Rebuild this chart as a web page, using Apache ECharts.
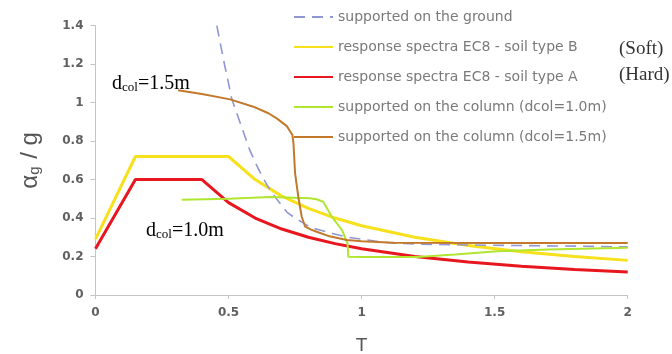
<!DOCTYPE html>
<html>
<head>
<meta charset="utf-8">
<script src="https://cdn.jsdelivr.net/npm/echarts@6/dist/echarts.min.js"></script>
<style>
  html, body { margin: 0; padding: 0; background: #fff; }
  #chart { width: 672px; height: 354px; }
</style>
</head>
<body>
<div id="chart"></div>
<script>
// period T (s) and normalised spectral acceleration
var groundT = [0.456, 0.48, 0.5, 0.512, 0.55, 0.578, 0.6, 0.625, 0.65, 0.68, 0.72, 0.75, 0.78, 0.81, 0.85, 0.89, 0.95, 1.0, 1.05, 1.1, 1.2, 1.4, 1.6, 1.8, 2.0];
var groundY = [1.40, 1.23, 1.10, 1.02, 0.87, 0.76, 0.69, 0.62, 0.56, 0.50, 0.43, 0.40, 0.375, 0.35, 0.335, 0.32, 0.30, 0.29, 0.28, 0.272, 0.265, 0.26, 0.257, 0.254, 0.25];

var soilBT = [0, 0.15, 0.5, 0.6, 0.7, 0.8, 0.9, 1.0, 1.2, 1.4, 1.6, 1.8, 2.0];
var soilBY = [0.29, 0.72, 0.72, 0.60, 0.514, 0.45, 0.40, 0.36, 0.30, 0.257, 0.225, 0.20, 0.18];

var soilAT = [0, 0.15, 0.4, 0.5, 0.6, 0.7, 0.8, 0.9, 1.0, 1.2, 1.4, 1.6, 1.8, 2.0];
var soilAY = [0.24, 0.60, 0.60, 0.48, 0.40, 0.343, 0.30, 0.267, 0.24, 0.20, 0.171, 0.15, 0.133, 0.12];

var col10T = [0.324, 0.5, 0.656, 0.806, 0.83, 0.856, 0.888, 0.926, 0.947, 0.95, 1.0, 1.1, 1.21, 1.35, 1.51, 1.7, 2.0];
var col10Y = [0.495, 0.50, 0.51, 0.503, 0.498, 0.485, 0.407, 0.338, 0.269, 0.199, 0.198, 0.197, 0.198, 0.21, 0.228, 0.237, 0.245];

var col15T = [0.31, 0.4, 0.506, 0.593, 0.65, 0.681, 0.719, 0.74, 0.744, 0.75, 0.762, 0.775, 0.788, 0.81, 0.831, 0.88, 0.944, 1.0, 1.12, 1.5, 2.0];
var col15Y = [1.065, 1.045, 1.017, 0.979, 0.945, 0.918, 0.878, 0.832, 0.788, 0.633, 0.511, 0.407, 0.355, 0.34, 0.329, 0.305, 0.286, 0.28, 0.272, 0.27, 0.27];

var seriesNames = [
  'supported on the ground',
  'response spectra EC8 - soil type B',
  'response spectra EC8 - soil type A',
  'supported on the column (dcol=1.0m)',
  'supported on the column (dcol=1.5m)'
];

function pairs(xs, ys) {
  return xs.map(function (x, i) { return [x, ys[i]]; });
}

var chart = echarts.init(document.getElementById('chart'), null, { renderer: 'canvas' });

var sans = 'DejaVu Sans, Verdana, sans-serif';
var serif = 'Liberation Serif, Times New Roman, serif';
var axisFont = { color: '#606060', fontSize: 12, fontWeight: 'bold', fontFamily: sans };
var annoRich = {
  d: { fontFamily: serif, fontSize: 20, color: '#333' },
  s: { fontFamily: serif, fontSize: 13, color: '#333', padding: [8, 0, 0, 0] }
};

chart.setOption({
  animation: false,
  grid: { left: 95.5, right: 44.3, top: 25.7, bottom: 59, outerBoundsMode: 'none' },
  legend: {
    orient: 'vertical',
    left: 288,
    top: 5,
    itemWidth: 39,
    itemHeight: 14,
    itemGap: 16,
    selectedMode: false,
    itemStyle: { opacity: 0 },
    textStyle: { color: '#7a7a7a', fontSize: 14, fontFamily: sans },
    data: seriesNames
  },
  xAxis: {
    type: 'value',
    min: 0, max: 2, interval: 0.5,
    name: 'T',
    nameLocation: 'middle',
    nameGap: 41,
    nameTextStyle: { color: '#555', fontSize: 19, fontFamily: 'Liberation Sans, Arial, sans-serif' },
    splitLine: { show: false },
    axisLine: { lineStyle: { color: '#c4c4c4' } },
    axisTick: { show: true, length: 4, lineStyle: { color: '#c4c4c4' } },
    axisLabel: Object.assign({ margin: 12 }, axisFont)
  },
  yAxis: {
    type: 'value',
    min: 0, max: 1.4, interval: 0.2,
    name: '{a|α}{s|g}{a| / g}',
    nameLocation: 'middle',
    nameRotate: 90,
    nameGap: 53,
    nameTextStyle: {
      rich: {
        a: { color: '#555', fontSize: 24, fontFamily: 'Liberation Sans, Arial, sans-serif' },
        s: { color: '#555', fontSize: 15, fontFamily: 'Liberation Sans, Arial, sans-serif', verticalAlign: 'bottom', padding: [9, 1, 0, 0] }
      }
    },
    splitLine: { show: false },
    axisLine: { show: true, lineStyle: { color: '#c4c4c4' } },
    axisTick: { show: true, length: 5, lineStyle: { color: '#c4c4c4' } },
    axisLabel: Object.assign({ margin: 12 }, axisFont)
  },
  graphic: [
    {
      type: 'text', left: 112, top: 74,
      style: { text: '{d|d}{s|col}{d|=1.5m}', rich: annoRich }
    },
    {
      type: 'text', left: 146, top: 221,
      style: { text: '{d|d}{s|col}{d|=1.0m}', rich: annoRich }
    },
    {
      type: 'text', left: 619, top: 40,
      style: { text: '(Soft)', fontFamily: serif, fontSize: 19, fill: '#333' }
    },
    {
      type: 'text', left: 619, top: 66,
      style: { text: '(Hard)', fontFamily: serif, fontSize: 19, fill: '#333' }
    }
  ],
  series: [
    {
      name: seriesNames[0], type: 'line', symbol: 'none', z: 3,
      lineStyle: { color: '#8f97d6', width: 1.6, type: [11, 7] },
      itemStyle: { color: '#8f97d6' },
      data: pairs(groundT, groundY)
    },
    {
      name: seriesNames[1], type: 'line', symbol: 'none', z: 2,
      lineStyle: { color: '#f7e01c', width: 3 },
      itemStyle: { color: '#f7e01c' },
      data: pairs(soilBT, soilBY)
    },
    {
      name: seriesNames[2], type: 'line', symbol: 'none', z: 2,
      lineStyle: { color: '#e8161e', width: 3 },
      itemStyle: { color: '#e8161e' },
      data: pairs(soilAT, soilAY)
    },
    {
      name: seriesNames[3], type: 'line', symbol: 'none', z: 4,
      lineStyle: { color: '#b0e630', width: 2 },
      itemStyle: { color: '#b0e630' },
      data: pairs(col10T, col10Y)
    },
    {
      name: seriesNames[4], type: 'line', symbol: 'none', z: 5,
      lineStyle: { color: '#c2792c', width: 2 },
      itemStyle: { color: '#c2792c' },
      data: pairs(col15T, col15Y)
    }
  ]
});
</script>
</body>
</html>
